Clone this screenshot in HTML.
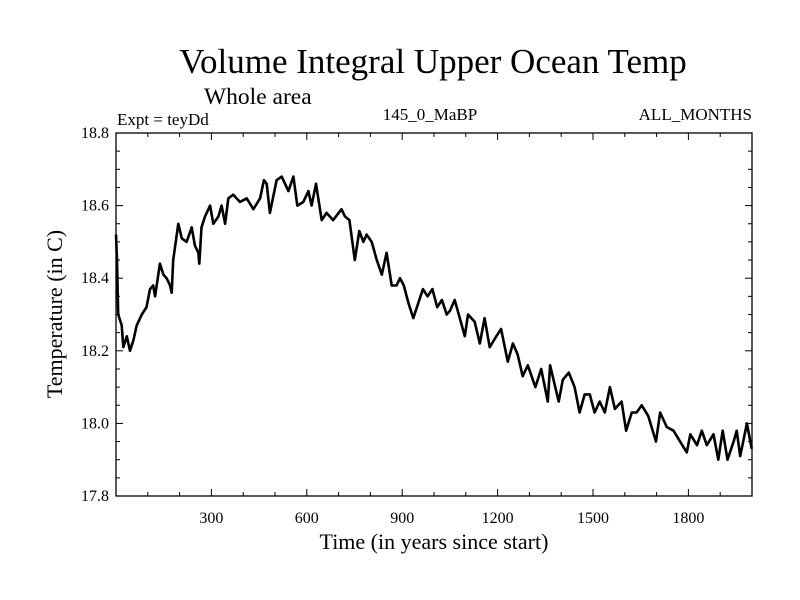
<!DOCTYPE html>
<html><head><meta charset="utf-8"><style>
html,body{margin:0;padding:0;background:#fff;}
svg{display:block;font-family:"Liberation Serif",serif;}
</style></head><body>
<svg id="chart" width="800" height="600" viewBox="0 0 800 600">
<rect width="800" height="600" fill="#fff"/>
<text x="433" y="73" font-size="35" text-anchor="middle">Volume Integral Upper Ocean Temp</text>
<text x="204" y="104" font-size="23.5">Whole area</text>
<text x="117" y="125" font-size="17">Expt = teyDd</text>
<text x="430" y="120" font-size="17" text-anchor="middle">145_0_MaBP</text>
<text x="752" y="120" font-size="17" text-anchor="end">ALL_MONTHS</text>
<g id="axes"></g>
<g id="plot"></g>
<text x="434" y="549" font-size="22" text-anchor="middle">Time (in years since start)</text>
<text x="0" y="0" font-size="22" text-anchor="middle" transform="translate(62,314) rotate(-90)">Temperature (in C)</text>
</svg>
<script>
const years=[0,3,7,18,23,34,44,55,65,81,96,107,117,123,138,149,159,170,175,180,196,207,222,238,248,259,262,269,280,296,306,322,332,343,353,369,390,411,432,453,465,474,484,505,521,542,558,570,589,605,615,629,647,662,683,709,720,734,751,765,778,788,804,820,836,851,867,882,893,905,920,935,950,965,980,995,1010,1025,1040,1050,1065,1081,1097,1107,1128,1144,1159,1175,1196,1211,1232,1248,1263,1279,1295,1319,1337,1358,1365,1392,1405,1424,1442,1458,1474,1490,1505,1521,1537,1553,1569,1590,1604,1622,1637,1653,1674,1698,1711,1732,1753,1774,1795,1806,1827,1842,1858,1879,1894,1908,1923,1942,1952,1963,1984,1999];
const temps=[18.52,18.45,18.30,18.27,18.21,18.24,18.20,18.23,18.27,18.30,18.32,18.37,18.38,18.35,18.44,18.41,18.40,18.38,18.36,18.45,18.55,18.51,18.50,18.54,18.49,18.47,18.44,18.54,18.57,18.60,18.55,18.57,18.60,18.55,18.62,18.63,18.61,18.62,18.59,18.62,18.67,18.66,18.58,18.67,18.68,18.64,18.68,18.60,18.61,18.64,18.60,18.66,18.56,18.58,18.56,18.59,18.57,18.56,18.45,18.53,18.50,18.52,18.50,18.45,18.41,18.47,18.38,18.38,18.40,18.38,18.33,18.29,18.33,18.37,18.35,18.37,18.32,18.34,18.30,18.31,18.34,18.29,18.24,18.30,18.28,18.22,18.29,18.21,18.24,18.26,18.17,18.22,18.19,18.13,18.16,18.10,18.15,18.06,18.16,18.06,18.12,18.14,18.10,18.03,18.08,18.08,18.03,18.06,18.03,18.10,18.04,18.06,17.98,18.03,18.03,18.05,18.02,17.95,18.03,17.99,17.98,17.95,17.92,17.97,17.94,17.98,17.94,17.97,17.90,17.98,17.90,17.95,17.98,17.91,18.00,17.93];
const xTickLabels=[300,600,900,1200,1500,1800];
const yTickLabels=[17.8,18.0,18.2,18.4,18.6,18.8];
const X0=116,X1=752,Y0=496,Y1=133;
const xs=v=>X0+(v-0)/(2000-0)*(X1-X0);
const ys=v=>Y0-(v-17.8)/(18.8-17.8)*(Y0-Y1);
const NS='http://www.w3.org/2000/svg';
const axes=document.getElementById('axes'),plot=document.getElementById('plot');
function mk(tag,at,parent){const e=document.createElementNS(NS,tag);for(const k in at)e.setAttribute(k,at[k]);parent.appendChild(e);return e;}
const frame=mk('rect',{x:X0,y:Y1,width:X1-X0,height:Y0-Y1,fill:'none',stroke:'#000','stroke-width':1.3},axes);


for(let v=100;v<2000;v+=100){
  const major=v%300===0,x=xs(v),L=major?7:4;
  const t1=mk('line',{x1:x,x2:x,y1:Y0,y2:Y0-L,stroke:'#000','stroke-width':1},axes);
  
  
  const t2=mk('line',{x1:x,x2:x,y1:Y1,y2:Y1+L,stroke:'#000','stroke-width':1},axes);
  
  
}
xTickLabels.forEach(v=>{
  const t=mk('text',{x:xs(v),y:Y0+27,'font-size':16,'text-anchor':'middle'},axes);t.textContent=v;
  
  
});
for(let i=1;i<20;i++){
  const v=17.8+i*0.05,y=ys(v),major=i%4===0,L=major?7:4;
  const t1=mk('line',{x1:X0,x2:X0+L,y1:y,y2:y,stroke:'#000','stroke-width':1},axes);
  
  
  const t2=mk('line',{x1:X1,x2:X1-L,y1:y,y2:y,stroke:'#000','stroke-width':1},axes);
  
  
}
yTickLabels.forEach(v=>{
  const t=mk('text',{x:X0-7,y:ys(v)+5,'font-size':16,'text-anchor':'end'},axes);t.textContent=v.toFixed(1);
  
  
});
const d=years.map((yr,i)=>(i?'L':'M')+xs(yr).toFixed(1)+','+ys(temps[i]).toFixed(1)).join('');
const line=mk('path',{d:d,fill:'none',stroke:'#000','stroke-width':2.6,'stroke-linejoin':'round'},plot);


</script>
</body></html>
